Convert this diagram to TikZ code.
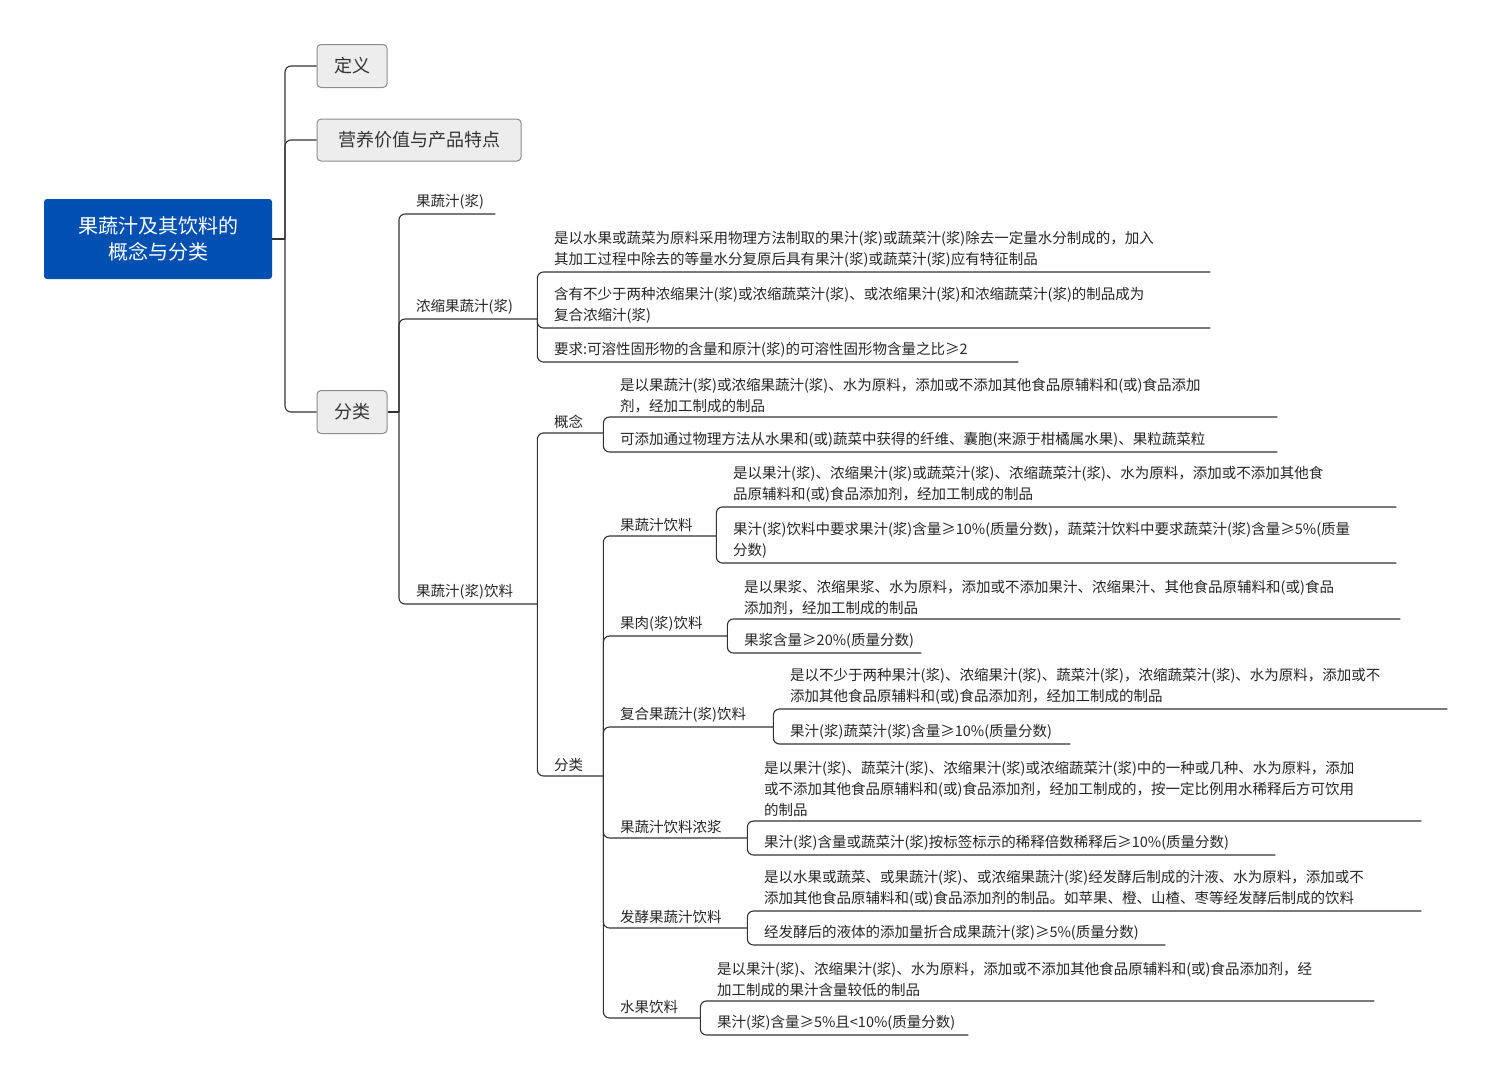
\documentclass[tikz,border=0pt]{standalone}
\usepackage{fontspec}
\setmainfont{Noto Sans CJK SC}
\begin{document}
\begin{tikzpicture}[x=1pt,y=-1pt,
  conn/.style={draw=black!80,line width=1.1pt,rounded corners=6pt},
  leaf/.style={inner xsep=0pt,inner ysep=4pt,align=left,font=\fontsize{14.5}{21}\selectfont,text=black!85},
  box/.style={draw=black!45,fill=black!7,rounded corners=4pt,line width=1pt,font=\fontsize{18}{22}\selectfont,text=black!80}]
\useasboundingbox (0,0) rectangle (1491,1080);
\newcommand\mleaf[6]{%
  \pgfmathsetmacro\tw{#4-#2-17}%
  \node[leaf,text width=\tw pt,anchor=south west] (#1) at (#2+17,#3) {#5};
  \draw[conn] (#6) |- (#1.south east);}
\node[fill=blue!55!cyan!70!black,rounded corners=3pt,minimum width=228pt,minimum height=80pt,text=white,align=center,font=\fontsize{20}{26}\selectfont] (root) at (158,239) {果蔬汁及其饮料的\\概念与分类};
\node[box,minimum width=70pt,minimum height=43pt] (dy) at (352,66) {定义};
\node[box,minimum width=204pt,minimum height=42pt] (yy) at (419,140) {营养价值与产品特点};
\node[box,minimum width=70pt,minimum height=43pt] (fl) at (352,412) {分类};
\coordinate (t0) at (285,239);
\coordinate (t1) at (399,412);
\draw[conn] (root.east) -- (t0);
\draw[conn] (t0) |- (dy.west);
\draw[conn] (t0) |- (yy.west);
\draw[conn] (t0) |- (fl.west);
\draw[conn] (fl.east) -- (t1);
\mleaf{gsz}{399}{214}{495}{果蔬汁(浆)}{t1}
\mleaf{nsz}{399}{319}{537}{浓缩果蔬汁(浆)}{t1}
\mleaf{yl}{399}{604}{537}{果蔬汁(浆)饮料}{t1}
\mleaf{n1}{537}{272}{1210}{是以水果或蔬菜为原料采用物理方法制取的果汁(浆)或蔬菜汁(浆)除去一定量水分制成的，加入\\其加工过程中除去的等量水分复原后具有果汁(浆)或蔬菜汁(浆)应有特征制品}{nsz.south east}
\mleaf{n2}{537}{328}{1210}{含有不少于两种浓缩果汁(浆)或浓缩蔬菜汁(浆)、或浓缩果汁(浆)和浓缩蔬菜汁(浆)的制品成为\\复合浓缩汁(浆)}{nsz.south east}
\mleaf{n3}{537}{362}{1018}{要求:可溶性固形物的含量和原汁(浆)的可溶性固形物含量之比≥2}{nsz.south east}
\mleaf{gn}{537}{433}{603}{概念}{yl.south east}
\mleaf{fl2}{537}{776}{603}{分类}{yl.south east}
\mleaf{g1}{603}{417}{1277}{是以果蔬汁(浆)或浓缩果蔬汁(浆)、水为原料，添加或不添加其他食品原辅料和(或)食品添加\\剂，经加工制成的制品}{gn.south east}
\mleaf{g2}{603}{452}{1277}{可添加通过物理方法从水果和(或)蔬菜中获得的纤维、囊胞(来源于柑橘属水果)、果粒蔬菜粒}{gn.south east}
\mleaf{c1}{603}{536}{716}{果蔬汁饮料}{fl2.south east}
\mleaf{c2}{603}{636}{727}{果肉(浆)饮料}{fl2.south east}
\mleaf{c3}{603}{727}{773}{复合果蔬汁(浆)饮料}{fl2.south east}
\mleaf{c4}{603}{838}{747}{果蔬汁饮料浓浆}{fl2.south east}
\mleaf{c5}{603}{928}{747}{发酵果蔬汁饮料}{fl2.south east}
\mleaf{c6}{603}{1018}{700}{水果饮料}{fl2.south east}
\mleaf{c1a}{716}{507}{1396}{是以果汁(浆)、浓缩果汁(浆)或蔬菜汁(浆)、浓缩蔬菜汁(浆)、水为原料，添加或不添加其他食\\品原辅料和(或)食品添加剂，经加工制成的制品}{c1.south east}
\mleaf{c1b}{716}{563}{1396}{果汁(浆)饮料中要求果汁(浆)含量≥10\%(质量分数)，蔬菜汁饮料中要求蔬菜汁(浆)含量≥5\%(质量\\分数)}{c1.south east}
\mleaf{c2a}{727}{619}{1400}{是以果浆、浓缩果浆、水为原料，添加或不添加果汁、浓缩果汁、其他食品原辅料和(或)食品\\添加剂，经加工制成的制品}{c2.south east}
\mleaf{c2b}{727}{653}{921}{果浆含量≥20\%(质量分数)}{c2.south east}
\mleaf{c3a}{773}{709}{1447}{是以不少于两种果汁(浆)、浓缩果汁(浆)、蔬菜汁(浆)，浓缩蔬菜汁(浆)、水为原料，添加或不\\添加其他食品原辅料和(或)食品添加剂，经加工制成的制品}{c3.south east}
\mleaf{c3b}{773}{744}{1070}{果汁(浆)蔬菜汁(浆)含量≥10\%(质量分数)}{c3.south east}
\mleaf{c4a}{747}{821}{1421}{是以果汁(浆)、蔬菜汁(浆)、浓缩果汁(浆)或浓缩蔬菜汁(浆)中的一种或几种、水为原料，添加\\或不添加其他食品原辅料和(或)食品添加剂，经加工制成的，按一定比例用水稀释后方可饮用\\的制品}{c4.south east}
\mleaf{c4b}{747}{855}{1275}{果汁(浆)含量或蔬菜汁(浆)按标签标示的稀释倍数稀释后≥10\%(质量分数)}{c4.south east}
\mleaf{c5a}{747}{911}{1421}{是以水果或蔬菜、或果蔬汁(浆)、或浓缩果蔬汁(浆)经发酵后制成的汁液、水为原料，添加或不\\添加其他食品原辅料和(或)食品添加剂的制品。如苹果、橙、山楂、枣等经发酵后制成的饮料}{c5.south east}
\mleaf{c5b}{747}{945}{1165}{经发酵后的液体的添加量折合成果蔬汁(浆)≥5\%(质量分数)}{c5.south east}
\mleaf{c6a}{700}{1001}{1374}{是以果汁(浆)、浓缩果汁(浆)、水为原料，添加或不添加其他食品原辅料和(或)食品添加剂，经\\加工制成的果汁含量较低的制品}{c6.south east}
\mleaf{c6b}{700}{1035}{968}{果汁(浆)含量≥5\%且<10\%(质量分数)}{c6.south east}
\end{tikzpicture}
\end{document}
